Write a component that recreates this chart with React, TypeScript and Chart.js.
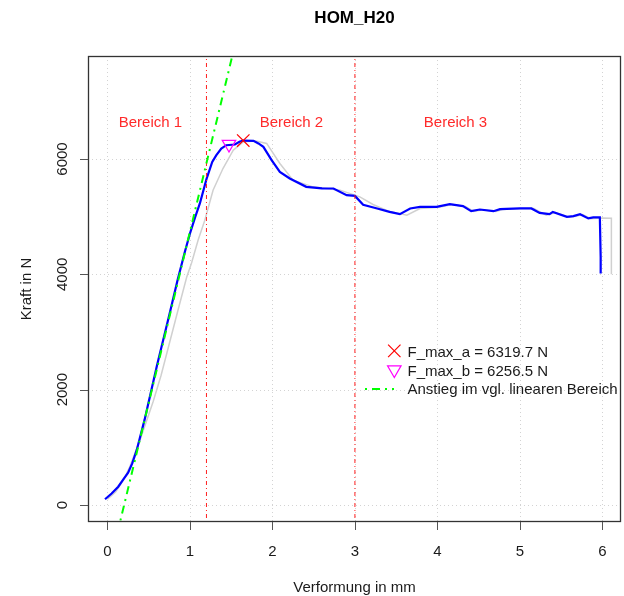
import { useEffect, useRef } from "react";
import { Chart, registerables } from "chart.js";

Chart.register(...registerables);

// ---- data ----
const chartTitle = "HOM_H20";
const xTitle = "Verformung in mm";
const yTitle = "Kraft in N";
const xTicks = [0, 1, 2, 3, 4, 5, 6];
const yTicks = [0, 2000, 4000, 6000];
const xLimits = [-0.2364, 6.2265];
const yLimits = [-295, 7786];

const blueX = [-0.03, 0.05, 0.13, 0.19, 0.25, 0.3, 0.354, 0.45, 0.6, 0.75, 0.85, 0.94, 1.0, 1.06, 1.12, 1.2, 1.27, 1.32, 1.38, 1.44, 1.545, 1.6, 1.646, 1.77, 1.83, 1.89, 1.99, 2.09, 2.21, 2.41, 2.6, 2.74, 2.9, 3.0, 3.1, 3.27, 3.42, 3.545, 3.67, 3.79, 3.99, 4.15, 4.31, 4.41, 4.515, 4.68, 4.76, 5.0, 5.14, 5.24, 5.36, 5.4, 5.57, 5.65, 5.73, 5.83, 5.89, 5.97, 5.98, 5.98];
const blueY = [99, 200, 317, 440, 560, 720, 950, 1480, 2420, 3300, 3900, 4400, 4709, 4980, 5229, 5650, 5950, 6066, 6180, 6239, 6251, 6300, 6320, 6314, 6270, 6210, 5979, 5776, 5662, 5517, 5490, 5488, 5373, 5360, 5205, 5142, 5083, 5043, 5142, 5170, 5170, 5217, 5182, 5095, 5124, 5095, 5130, 5142, 5142, 5066, 5043, 5083, 4997, 5009, 5043, 4969, 4986, 4986, 4300, 4015];

const grayX = [0.0, 0.1, 0.2, 0.27, 0.4, 0.555, 0.65, 0.75, 0.85, 0.96, 1.02, 1.1, 1.18, 1.28, 1.4, 1.525, 1.646, 1.8, 1.93, 2.09, 2.25, 2.49, 2.82, 3.06, 3.22, 3.4, 3.63, 3.79, 4.02, 4.18, 4.34, 4.44, 4.55, 4.71, 4.79, 5.03, 5.17, 5.27, 5.32, 5.43, 5.6, 5.68, 5.76, 5.86, 6.0, 6.11, 6.11];
const grayY = [100, 230, 450, 664, 1150, 1800, 2250, 2800, 3350, 3950, 4200, 4600, 4939, 5459, 5835, 6152, 6297, 6310, 6270, 5922, 5633, 5517, 5460, 5343, 5211, 5100, 5026, 5142, 5165, 5210, 5175, 5090, 5120, 5090, 5125, 5140, 5140, 5060, 5026, 5070, 4990, 5005, 5035, 4965, 4975, 4974, 4003];

const regionBounds = [1.2, 3.0];
const regionLabels = ["Bereich 1", "Bereich 2", "Bereich 3"];
const regionLabelX = [0.52, 2.23, 4.22];
const regionLabelY = [6650, 6650, 6650];

const slopeX = [0.1, 1.6];
const slopeY = [-604, 8303];

const fmaxAX = [1.646];
const fmaxAY = [6319.7];
const fmaxBX = [1.473];
const fmaxBY = [6256.5];
const legendLabels = [
  `F_max_a = ${fmaxAY[0].toFixed(1)} N`,
  `F_max_b = ${fmaxBY[0].toFixed(1)} N`,
  "Anstieg im vgl. linearen Bereich",
];

const FONT = '15px "Liberation Sans", Arial, sans-serif';
const TITLE_FONT = 'bold 17px "Liberation Sans", Arial, sans-serif';
const RED_DASH = [1, 3, 4, 3];
const GREEN_DASH = [2, 5, 8, 5];

const pts = (xs: number[], ys: number[]) => xs.map((x, i) => ({ x, y: ys[i] }));

const decor = {
  id: "decor",
  beforeDatasetsDraw(chart: any) {
    const { ctx, chartArea: a, scales } = chart;
    const x = scales.x, y = scales.y;
    ctx.save();
    ctx.strokeStyle = "#d3d3d3";
    ctx.lineWidth = 1;
    ctx.setLineDash([1, 3]);
    for (const v of xTicks) {
      const px = Math.round(x.getPixelForValue(v)) + 0.5;
      ctx.beginPath(); ctx.moveTo(px, a.top); ctx.lineTo(px, a.bottom); ctx.stroke();
    }
    for (const v of yTicks) {
      const py = Math.round(y.getPixelForValue(v)) + 0.5;
      ctx.beginPath(); ctx.moveTo(a.left, py); ctx.lineTo(a.right, py); ctx.stroke();
    }
    ctx.restore();
  },
  afterDraw(chart: any) {
    const { ctx, chartArea: a, scales } = chart;
    const x = scales.x, y = scales.y;
    ctx.save();
    // box
    ctx.strokeStyle = "#333";
    ctx.lineWidth = 1.3;
    ctx.setLineDash([]);
    ctx.strokeRect(a.left + 0.5, a.top + 0.5, a.right - a.left - 1, a.bottom - a.top - 1);
    // tick marks
    ctx.strokeStyle = "#555";
    ctx.lineWidth = 1;
    for (const v of xTicks) {
      const px = Math.round(x.getPixelForValue(v)) + 0.5;
      ctx.beginPath(); ctx.moveTo(px, a.bottom); ctx.lineTo(px, a.bottom + 8); ctx.stroke();
    }
    for (const v of yTicks) {
      const py = Math.round(y.getPixelForValue(v)) + 0.5;
      ctx.beginPath(); ctx.moveTo(a.left, py); ctx.lineTo(a.left - 8, py); ctx.stroke();
    }
    // tick labels
    ctx.fillStyle = "#1a1a1a";
    ctx.font = FONT;
    ctx.textAlign = "center";
    ctx.textBaseline = "alphabetic";
    for (const v of xTicks) {
      ctx.fillText(String(v), x.getPixelForValue(v), a.bottom + 33.7);
    }
    for (const v of yTicks) {
      ctx.save();
      ctx.translate(a.left - 21.5, y.getPixelForValue(v));
      ctx.rotate(-Math.PI / 2);
      ctx.fillText(String(v), 0, 0);
      ctx.restore();
    }
    // axis titles
    const cx = (a.left + a.right) / 2;
    const cy = (a.top + a.bottom) / 2;
    ctx.fillText(xTitle, cx, a.bottom + 69.7);
    ctx.save();
    ctx.translate(31.3, cy);
    ctx.rotate(-Math.PI / 2);
    ctx.fillText(yTitle, 0, 0);
    ctx.restore();
    // title
    ctx.font = TITLE_FONT;
    ctx.fillStyle = "#000";
    ctx.fillText(chartTitle, cx, 23.3);
    // region labels
    ctx.font = FONT;
    ctx.fillStyle = "#ff2a2a";
    regionLabels.forEach((t, i) => {
      ctx.fillText(t, x.getPixelForValue(regionLabelX[i]), y.getPixelForValue(regionLabelY[i]) + 5.8);
    });
    // legend
    const symX = 394.3;
    const textX = 407.5;
    const base = [356.7, 375.5, 394.3];
    ctx.textAlign = "left";
    ctx.fillStyle = "#1a1a1a";
    legendLabels.forEach((t, i) => ctx.fillText(t, textX, base[i]));
    // × symbol
    let sy = base[0] - 5.8;
    ctx.strokeStyle = "red";
    ctx.lineWidth = 1.2;
    ctx.beginPath();
    ctx.moveTo(symX - 6.2, sy - 6.2); ctx.lineTo(symX + 6.2, sy + 6.2);
    ctx.moveTo(symX + 6.2, sy - 6.2); ctx.lineTo(symX - 6.2, sy + 6.2);
    ctx.stroke();
    // ▽ symbol
    sy = base[1] - 5.8;
    const r = 7.8;
    ctx.strokeStyle = "#ff00ff";
    ctx.beginPath();
    ctx.moveTo(symX, sy + r);
    ctx.lineTo(symX - r * 0.866, sy - r / 2);
    ctx.lineTo(symX + r * 0.866, sy - r / 2);
    ctx.closePath();
    ctx.stroke();
    // green line
    sy = base[2] - 5.3;
    ctx.strokeStyle = "#00ff00";
    ctx.lineWidth = 2;
    ctx.setLineDash(GREEN_DASH);
    ctx.beginPath(); ctx.moveTo(365, sy); ctx.lineTo(394, sy); ctx.stroke();
    ctx.restore();
  },
};

export default function App() {
  const ref = useRef<HTMLCanvasElement | null>(null);
  useEffect(() => {
    if (!ref.current) return;
    const chart = new Chart(ref.current, {
      type: "scatter",
      data: {
        datasets: [
          {
            label: "gray",
            data: pts(grayX, grayY),
            showLine: true,
            borderColor: "#d0d0d0",
            borderWidth: 1.5,
            pointRadius: 0,
            tension: 0,
            order: 7,
          },
          {
            label: "blue",
            data: pts(blueX, blueY),
            showLine: true,
            borderColor: "#0000ff",
            borderWidth: 2.2,
            pointRadius: 0,
            tension: 0,
            order: 6,
          },
          {
            label: "b1",
            data: pts([regionBounds[0], regionBounds[0]], yLimits),
            showLine: true,
            borderColor: "#ff2020",
            borderWidth: 1,
            borderDash: RED_DASH,
            pointRadius: 0,
            clip: 0,
            order: 5,
          },
          {
            label: "b2",
            data: pts([regionBounds[1], regionBounds[1]], yLimits),
            showLine: true,
            borderColor: "#ff2020",
            borderWidth: 1,
            borderDash: RED_DASH,
            pointRadius: 0,
            clip: 0,
            order: 5,
          },
          {
            label: "slope",
            data: pts(slopeX, slopeY),
            showLine: true,
            borderColor: "#00ff00",
            borderWidth: 2,
            borderDash: GREEN_DASH,
            pointRadius: 0,
            clip: 0,
            order: 4,
          },
          {
            label: "fa",
            data: pts(fmaxAX, fmaxAY),
            showLine: false,
            pointStyle: "crossRot",
            pointRadius: 8.8,
            borderColor: "red",
            backgroundColor: "transparent",
            borderWidth: 1.2,
            clip: false,
            order: 1,
          },
          {
            label: "fb",
            data: pts(fmaxBX, fmaxBY),
            showLine: false,
            pointStyle: "triangle",
            rotation: 180,
            pointRadius: 7.8,
            borderColor: "#ff00ff",
            backgroundColor: "transparent",
            borderWidth: 1.2,
            clip: false,
            order: 2,
          },
        ] as any,
      },
      options: {
        animation: false,
        responsive: false,
        events: [],
        layout: { autoPadding: false, padding: { left: 88, top: 56, right: 3, bottom: 74 } },
        plugins: { legend: { display: false }, tooltip: { enabled: false }, title: { display: false } },
        scales: {
          x: { type: "linear", min: xLimits[0], max: xLimits[1], display: false },
          y: { type: "linear", min: yLimits[0], max: yLimits[1], display: false },
        },
      } as any,
      plugins: [decor],
    });
    return () => chart.destroy();
  }, []);
  return (
    <div style={{ position: "fixed", left: 0, top: 0, width: 624, height: 596, background: "#fff" }}>
      <canvas ref={ref} width={624} height={596} style={{ display: "block" }} />
    </div>
  );
}
